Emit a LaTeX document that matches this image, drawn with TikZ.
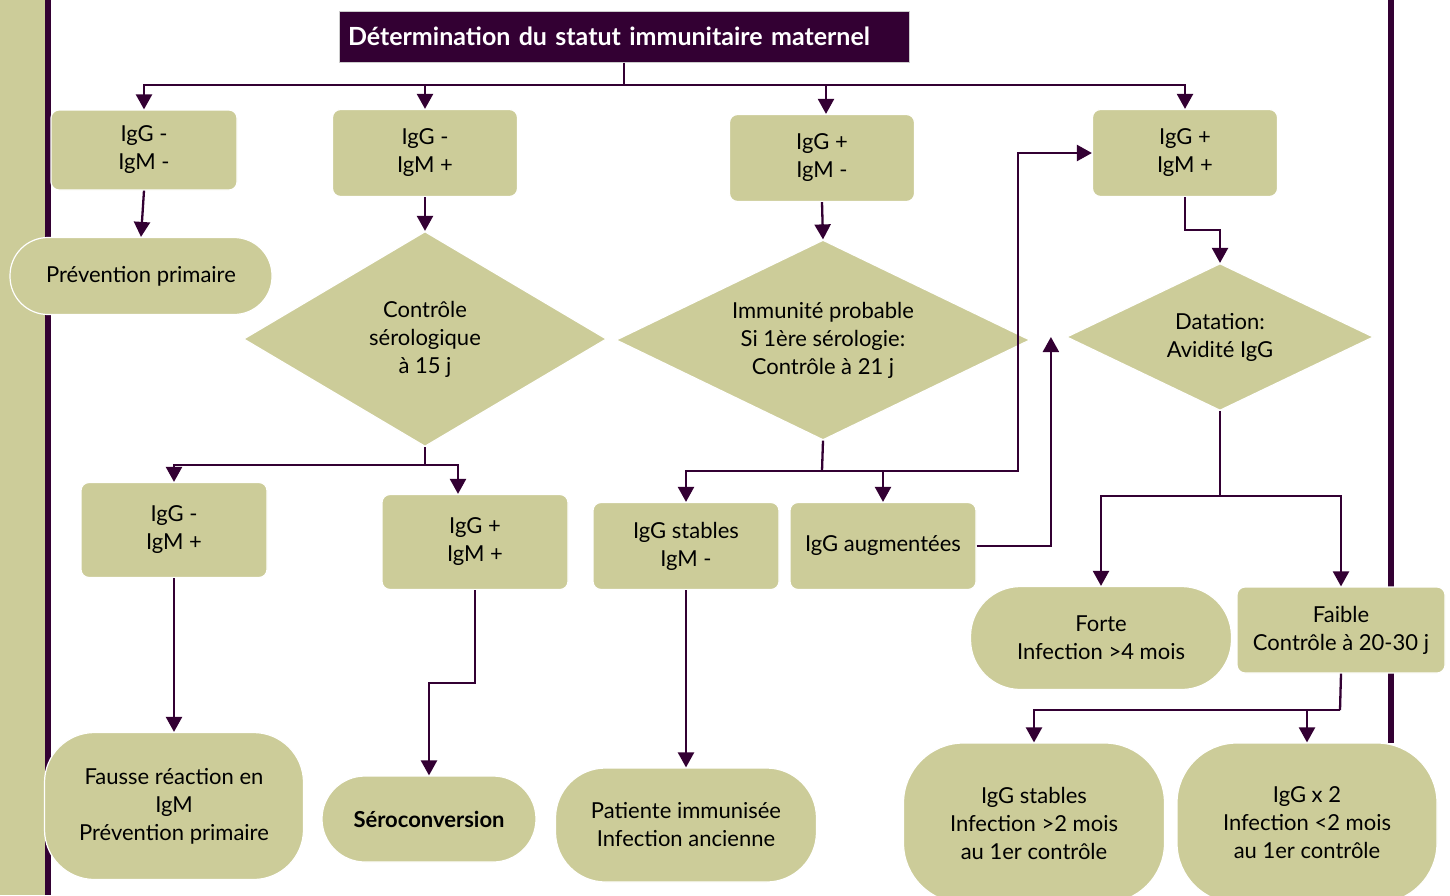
\documentclass[tikz,border=0pt]{standalone}
\usepackage{fontspec}
\setmainfont{Lato}
\usetikzlibrary{arrows.meta}
\usetikzlibrary{shapes.geometric}

\definecolor{khaki}{HTML}{CCCC99}
\definecolor{aubergine}{HTML}{330033}

\begin{document}
\begin{tikzpicture}[x=1pt,y=-1pt,
    every node/.style={font=\fontsize{22}{28}\selectfont,align=center,inner sep=0pt},
    box/.style={rectangle,rounded corners=8pt,fill=khaki,draw=white,line width=1.2pt},
    term/.style={rectangle,rounded corners=#1,fill=khaki,draw=white,line width=1.2pt},
    losange/.style={diamond,shape aspect=2,fill=khaki,draw=white,line width=1.2pt},
    link/.style={draw=aubergine,line width=2.3pt},
    fleche/.style={link,-{Triangle[width=16pt,length=15pt]}}]
      \useasboundingbox (0,0) rectangle (1450,895);
      \fill[khaki] (0,0) rectangle (45,895);
      \fill[aubergine] (45,0) rectangle (51,895);
      \fill[aubergine] (1388,0) rectangle (1394,743);
      %%
      \node[fill=aubergine,draw=gray!40,line width=1pt,text=white,
            font=\fontsize{25}{28}\bfseries\selectfont,
            minimum width=570pt,minimum height=51pt,text width=552pt,align=left]
            (T) at (624,36.5) {Détermination du statut immunitaire maternel};
      %%
      \node[box,minimum width=186pt,minimum height=80pt] (A1) at (144,150) {IgG -\\IgM -};
      \node[box,minimum width=185pt,minimum height=87pt] (A2) at (425,153) {IgG -\\IgM +};
      \node[box,minimum width=185pt,minimum height=87pt] (A3) at (822,158) {IgG +\\IgM -};
      \node[box,minimum width=185pt,minimum height=87pt] (A4) at (1185,153) {IgG +\\IgM +};
      \node[term=38pt,minimum width=262pt,minimum height=77pt] (P) at (141,276) {Prévention primaire};
      %%
      \node[losange,minimum width=363pt,minimum height=215pt] (D1) at (425,339)
           {Contrôle\\sérologique\\à 15 j};
      \node[losange,minimum width=414pt,minimum height=200pt] (D2) at (823,340)
           {Immunité probable\\Si 1ère sérologie:\\Contrôle à 21 j};
      \node[losange,minimum width=307pt,minimum height=147pt] (D3) at (1220,337)
           {Datation:\\Avidité IgG};
      %%
      \node[box,minimum width=186pt,minimum height=95pt] (B1) at (174,530) {IgG -\\IgM +};
      \node[box,minimum width=186pt,minimum height=95pt] (B2) at (475,542) {IgG +\\IgM +};
      \node[box,minimum width=186pt,minimum height=87pt] (B3) at (686,546) {IgG stables\\IgM -};
      \node[box,minimum width=186pt,minimum height=87pt] (B4) at (883,546) {IgG augmentées};
      %%
      \node[term=50pt,minimum width=259pt,minimum height=147pt] (C1) at (174,806)
           {Fausse réaction en\\IgM\\Prévention primaire};
      \node[term=43pt,minimum width=214pt,minimum height=86pt,font=\fontsize{22}{28}\bfseries\selectfont]
           (C2) at (429,819) {Séroconversion};
      \node[term=50pt,minimum width=261pt,minimum height=114pt] (C3) at (686,825)
           {Patiente immunisée\\Infection ancienne};
      %%
      \node[term=50pt,minimum width=261pt,minimum height=103pt] (E1) at (1101,638)
           {Forte\\Infection >4 mois};
      \node[box,minimum width=208pt,minimum height=86pt] (E2) at (1341,630)
           {Faible\\Contrôle à 20-30 j};
      \node[term=60pt,minimum width=261pt,minimum height=160pt] (F1) at (1034,823)
           {IgG stables\\Infection >2 mois\\au 1er contrôle};
      \node[term=60pt,minimum width=260pt,minimum height=160pt] (F2) at (1307,823)
           {IgG x 2\\Infection <2 mois\\au 1er contrôle};
      %%
      \coordinate (bus) at (624,85);
      \draw[link] (T.south) -- (bus);
      \draw[fleche] (bus) -| (A1.north);
      \draw[fleche] (bus) -| (A2.north);
      \draw[fleche] (bus) -| ([xshift=4pt]A3.north);
      \draw[fleche] (bus) -| (A4.north);
      \draw[fleche] (A1.south) -- (P.north);
      \draw[fleche] (A2.south) -- (D1.north);
      \draw[fleche] (A3.south) -- (D2.north);
      \draw[fleche] (A4.south) -- ++(0,33) -| (D3.north);
      %%
      \coordinate (j1) at (425,465);
      \draw[link] (D1.south) -- (j1);
      \draw[fleche] (j1) -| (B1.north);
      \draw[fleche] (j1) -| ([xshift=-17pt]B2.north);
      \coordinate (j2) at (822,471);
      \draw[link] (D2.south) -- (j2);
      \draw[fleche] (j2) -| (B3.north);
      \draw[fleche] (j2) -| (B4.north);
      \draw[fleche] (j2) -| (1018,300) |- (A4.west);
      \draw[fleche] (B4.east) -| ([xshift=-15pt]D3.west);
      %%
      \draw[fleche] (B1.south) -- (C1.north);
      \draw[fleche] (B2.south) -- ++(0,93) -| (C2.north);
      \draw[fleche] (B3.south) -- (C3.north);
      %%
      \coordinate (j3) at (1220,496);
      \draw[link] (D3.south) -- (j3);
      \draw[fleche] (j3) -| (E1.north);
      \draw[fleche] (j3) -| (E2.north);
      \coordinate (j4) at (1340,710);
      \draw[link] (E2.south) -- (j4);
      \draw[fleche] (j4) -| (F1.north);
      \draw[fleche] (j4) -| (F2.north);
    \end{tikzpicture}
\end{document}
